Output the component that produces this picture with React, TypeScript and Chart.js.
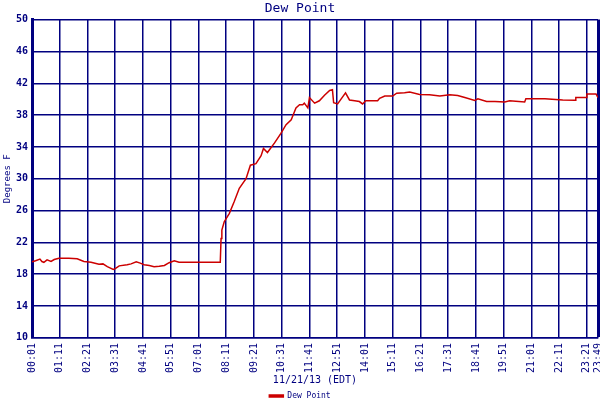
import { useEffect, useRef } from "react";
import Chart from "chart.js/auto";

// readings taken from the 11/21/13 dew point plot
const times = [
  "00:01", "00:10", "00:21", "00:26", "00:31", "00:39", "00:49", "00:57", "01:09", "01:34",
  "01:55", "02:12", "02:30", "02:50", "03:00", "03:11", "03:26", "03:31", "03:41", "04:01",
  "04:11", "04:24", "04:34", "04:44", "04:57", "05:09", "05:22", "05:35", "05:47", "06:00",
  "06:12", "07:56", "07:58", "08:00", "08:06", "08:19", "08:31", "08:44", "09:01", "09:12",
  "09:26", "09:39", "09:45", "09:55", "10:13", "10:29", "10:42", "10:55", "11:07", "11:16",
  "11:24", "11:28", "11:37", "11:41", "11:54", "12:06", "12:19", "12:32", "12:39", "12:42",
  "12:52", "13:02", "13:12", "13:22", "13:35", "13:47", "13:55", "14:03", "14:33", "14:38",
  "14:51", "15:11", "15:21", "15:41", "15:54", "16:19", "16:44", "17:10", "17:35", "17:55",
  "18:13", "18:38", "18:46", "19:08", "19:29", "19:54", "20:06", "20:44", "20:47", "21:35",
  "22:20", "22:51", "22:53", "23:19", "23:21", "23:44", "23:49",
];
const dewPoint = [
  19.55, 19.7, 19.9, 19.6, 19.5, 19.8, 19.6, 19.85, 20.0, 20.0,
  19.95, 19.6, 19.5, 19.25, 19.3, 18.95, 18.6, 18.7, 19.05, 19.2,
  19.3, 19.55, 19.4, 19.2, 19.1, 18.95, 19.0, 19.1, 19.45, 19.7,
  19.5, 19.5, 22.5, 23.55, 24.6, 25.65, 27.1, 28.8, 30.0, 31.7,
  31.9, 32.9, 33.8, 33.3, 34.5, 35.7, 36.8, 37.4, 38.9, 39.3,
  39.3, 39.5, 38.9, 40.2, 39.5, 39.8, 40.5, 41.1, 41.2, 39.55,
  39.4, 40.1, 40.8, 39.9, 39.8, 39.7, 39.4, 39.8, 39.8, 40.1,
  40.4, 40.4, 40.75, 40.8, 40.9, 40.6, 40.55, 40.4, 40.55, 40.45,
  40.2, 39.85, 40.05, 39.7, 39.7, 39.65, 39.8, 39.65, 40.05, 40.05,
  39.9, 39.85, 40.2, 40.2, 40.65, 40.65, 40.2,
];
const tickTimes = [
  "00:01", "01:11", "02:21", "03:31", "04:41", "05:51", "07:01", "08:11", "09:21", "10:31", "11:41",
  "12:51", "14:01", "15:11", "16:21", "17:31", "18:41", "19:51", "21:01", "22:11", "23:21", "23:49",
];
const yTicks = [10, 14, 18, 22, 26, 30, 34, 38, 42, 46, 50];

const NAVY = "#000080";
const MONO = "'DejaVu Sans Mono', monospace";

const toMin = (t: string) => {
  const [h, m] = t.split(":").map(Number);
  return h * 60 + m;
};
const fmt = (v: number) => {
  const h = Math.floor(v / 60);
  const m = Math.round(v % 60);
  return String(h).padStart(2, "0") + ":" + String(m).padStart(2, "0");
};

const App = () => {
  const chartRef: any = useRef(null);
  useEffect(() => {
    document.body.style.margin = "0";
    const ctx = chartRef.current.getContext("2d");
    const tickMins = tickTimes.map(toMin);

    const theChart = new Chart(ctx, {
      type: "line",
      data: {
        datasets: [
          {
            label: "Dew Point",
            data: times.map((t, i) => ({ x: toMin(t), y: dewPoint[i] })),
            borderColor: "#cc0000",
            backgroundColor: "#cc0000",
            borderWidth: 1.5,
            pointRadius: 0,
            tension: 0,
          },
        ],
      },
      options: {
        animation: false,
        responsive: false,
        layout: { padding: { left: 2, right: 2, top: 0, bottom: -10 } },
        plugins: {
          title: {
            display: true,
            text: "Dew Point",
            color: NAVY,
            font: { family: MONO, size: 13, weight: "normal" },
            padding: { top: 1, bottom: 3 },
          },
          legend: {
            position: "bottom",
            labels: {
              color: NAVY,
              font: { family: MONO, size: 8 },
              boxWidth: 14,
              boxHeight: 2,
              padding: 1,
            },
          },
          tooltip: { enabled: false },
        },
        scales: {
          x: {
            type: "linear",
            min: toMin("00:01"),
            max: toMin("23:49"),
            afterBuildTicks: (scale: any) => {
              scale.ticks = tickMins.map((v) => ({ value: v }));
            },
            afterFit: (scale: any) => {
              scale.paddingLeft = 0;
              scale.paddingRight = 0;
            },
            ticks: {
              autoSkip: false,
              minRotation: 90,
              maxRotation: 90,
              padding: 5,
              color: NAVY,
              font: { family: MONO, size: 10 },
              callback: (v: any) => fmt(Number(v)),
            },
            grid: {
              color: NAVY,
              lineWidth: (c: any) => (c.index === tickMins.length - 1 ? 3 : 1.5),
              drawTicks: false,
            },
            border: { color: NAVY, width: 1.5 },
            title: {
              display: true,
              text: "11/21/13 (EDT)",
              color: NAVY,
              font: { family: MONO, size: 10 },
              padding: { top: -4, bottom: 5 },
            },
          },
          y: {
            min: 10,
            max: 50,
            afterBuildTicks: (scale: any) => {
              scale.ticks = yTicks.map((v) => ({ value: v }));
            },
            afterFit: (scale: any) => {
              scale.width = 30;
            },
            ticks: {
              padding: 4,
              color: NAVY,
              font: { family: MONO, size: 10, weight: "bold" },
            },
            grid: { color: NAVY, lineWidth: 1.5, drawTicks: false },
            border: { color: NAVY, width: 3 },
            title: {
              display: true,
              text: "Degrees F",
              color: NAVY,
              font: { family: MONO, size: 9 },
              padding: 0,
            },
          },
        },
      },
    });

    return () => {
      theChart.destroy();
    };
  }, []);

  return (
    <div style={{ width: 600, height: 400 }}>
      <canvas ref={chartRef} width={600} height={400} />
    </div>
  );
};

export default App;
